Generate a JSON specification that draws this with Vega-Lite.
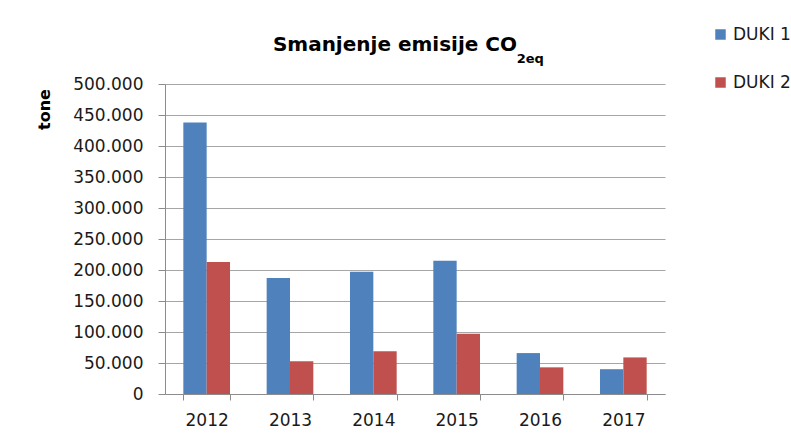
{
  "$schema": "https://vega.github.io/schema/vega-lite/v6.json",
  "autosize": "none",
  "width": 500,
  "height": 310,
  "padding": {"left": 165, "top": 84, "right": 126, "bottom": 48},
  "background": "white",
  "title": {
    "text": "Smanjenje emisije CO",
    "anchor": "end",
    "frame": "group",
    "dx": -148,
    "font": "DejaVu Sans",
    "fontSize": 20,
    "fontWeight": "bold",
    "color": "#000000",
    "offset": -29
  },
  "resolve": {"axis": {"x": "independent", "y": "independent"}},
  "layer": [
    {
      "data": {
        "values": [
          {"year": "2012", "series": "DUKI 1", "value": 438000},
          {"year": "2012", "series": "DUKI 2", "value": 213000},
          {"year": "2013", "series": "DUKI 1", "value": 187000},
          {"year": "2013", "series": "DUKI 2", "value": 53000},
          {"year": "2014", "series": "DUKI 1", "value": 197000},
          {"year": "2014", "series": "DUKI 2", "value": 69000},
          {"year": "2015", "series": "DUKI 1", "value": 215000},
          {"year": "2015", "series": "DUKI 2", "value": 97000},
          {"year": "2016", "series": "DUKI 1", "value": 66000},
          {"year": "2016", "series": "DUKI 2", "value": 43000},
          {"year": "2017", "series": "DUKI 1", "value": 40000},
          {"year": "2017", "series": "DUKI 2", "value": 59000}
        ]
      },
      "mark": {"type": "bar"},
      "encoding": {
        "x": {
          "field": "year",
          "type": "nominal",
          "scale": {"domain": ["2012", "2013", "2014", "2015", "2016", "2017"], "paddingInner": 0.44, "paddingOuter": 0.22},
          "axis": {
            "title": null,
            "labelAngle": 0,
            "tickBand": "extent",
            "tickSize": 6,
            "tickColor": "#8c8c8c",
            "domainColor": "#8c8c8c",
            "labelFont": "DejaVu Sans",
            "labelFontSize": 17,
            "labelColor": "#1a1a1a",
            "labelPadding": 12
          }
        },
        "xOffset": {"field": "series", "type": "nominal", "scale": {"paddingInner": 0, "paddingOuter": 0}},
        "y": {
          "field": "value",
          "type": "quantitative",
          "scale": {"domain": [0, 500000]},
          "axis": {
            "title": "tone",
            "titleFont": "DejaVu Sans",
            "titleFontSize": 16,
            "titleFontWeight": "bold",
            "titleColor": "#000000",
            "titleX": -121,
            "titleY": 25,
            "titleAlign": "center",
            "titleBaseline": "middle",
            "values": [0, 50000, 100000, 150000, 200000, 250000, 300000, 350000, 400000, 450000, 500000],
            "labelOverlap": false,
            "labelExpr": "replace(format(datum.value, ','), ',', '.')",
            "labelFont": "DejaVu Sans",
            "labelFontSize": 17,
            "labelColor": "#1a1a1a",
            "labelPadding": 15,
            "tickSize": 7,
            "tickColor": "#8c8c8c",
            "domainColor": "#8c8c8c",
            "gridColor": "#a6a6a6",
            "gridWidth": 1.2
          }
        },
        "color": {
          "field": "series",
          "type": "nominal",
          "scale": {"domain": ["DUKI 1", "DUKI 2"], "range": ["#4F81BD", "#C0504D"]},
          "legend": {
            "title": null,
            "orient": "none",
            "legendX": 547,
            "legendY": -58,
            "padding": 0,
            "symbolType": "square",
            "symbolSize": 110,
            "symbolStrokeWidth": 0,
            "labelFont": "DejaVu Sans",
            "labelFontSize": 17,
            "labelColor": "#1a1a1a",
            "labelOffset": 4,
            "rowPadding": 30
          }
        }
      }
    },
    {
      "data": {"values": [{"label": "2eq"}]},
      "mark": {
        "type": "text",
        "align": "left",
        "baseline": "alphabetic",
        "font": "DejaVu Sans",
        "fontSize": 13,
        "fontWeight": "bold",
        "color": "#000000",
        "clip": false
      },
      "encoding": {
        "x": {"datum": "2016", "type": "nominal", "bandPosition": 0, "axis": null},
        "y": {"datum": 534000, "type": "quantitative", "axis": null},
        "text": {"field": "label", "type": "nominal"}
      }
    }
  ],
  "config": {"view": {"stroke": null}}
}
